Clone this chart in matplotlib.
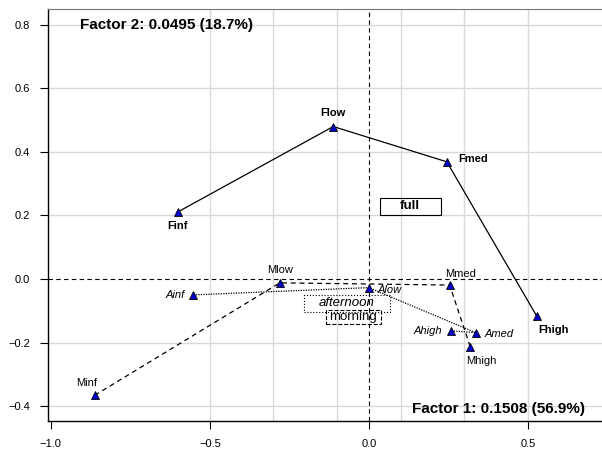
import numpy as np
import matplotlib.pyplot as plt
from matplotlib.patches import Rectangle

plt.rcParams['font.family'] = ['Liberation Sans', 'DejaVu Sans']

# correspondence analysis coordinates (factor 1, factor 2)
f_names = ['Finf', 'Flow', 'Fmed', 'Fhigh']
f_x = [-0.601, -0.112, 0.245, 0.528]
f_y = [0.211, 0.480, 0.369, -0.117]

m_names = ['Minf', 'Mlow', 'Mmed', 'Mhigh']
m_x = [-0.862, -0.280, 0.254, 0.319]
m_y = [-0.366, -0.012, -0.019, -0.214]

a_names = ['Ainf', 'Alow', 'Amed', 'Ahigh']
a_x = [-0.552, 0.000, 0.336, 0.258]
a_y = [-0.050, -0.027, -0.169, -0.163]

# group centroids
grp_names = ['full', 'afternoon', 'morning']
grp_x = [0.130, -0.069, -0.049]
grp_y = [0.227, -0.077, -0.120]

xticks = [-1.0, -0.5, 0.0, 0.5]
yticks = [-0.4, -0.2, 0.0, 0.2, 0.4, 0.6, 0.8]
xgrid = [-0.5, -0.3, -0.1, 0.1, 0.3, 0.5]

fig = plt.figure(figsize=(6.02, 4.53), dpi=100)
ax = fig.add_axes([0.0797, 0.0706, 0.9203, 0.9095])
ax.set_xlim(-1.009, 0.733)
ax.set_ylim(-0.447, 0.850)

for gx in xgrid:
  ax.axvline(gx, color='#d9d9d9', lw=1, zorder=0)
for gy in yticks:
  if gy != 0:
    ax.axhline(gy, color='#d9d9d9', lw=1, zorder=0)
ax.axvline(0, color='black', lw=0.8, ls=(0, (4, 3)), zorder=1)
ax.axhline(0, color='black', lw=0.8, ls=(0, (4, 3)), zorder=1)

mk = dict(marker='^', ms=6, mfc='#0000cc', mec='black', mew=0.6)
ax.plot(f_x, f_y, color='black', lw=0.9, ls='-', zorder=2, **mk)
ax.plot(m_x, m_y, color='black', lw=0.9, ls=(0, (4, 3)), zorder=2, **mk)
ax.plot(a_x, a_y, color='black', lw=0.9, ls=(0, (1, 1)), zorder=2, **mk)

fs = 8
# F labels: bold
f_off = [(0, -10, 'center'), (0, 10, 'center'), (8, 2, 'left'), (12, -10, 'center')]
for n, x, y, (dx, dy, ha) in zip(f_names, f_x, f_y, f_off):
  ax.annotate(n, (x, y), xytext=(dx, dy), textcoords='offset points',
              ha=ha, va='center', fontsize=fs, fontweight='bold')
# M labels: plain
m_off = [(-6, 9, 'center'), (0, 9, 'center'), (8, 8, 'center'), (8, -10, 'center')]
for n, x, y, (dx, dy, ha) in zip(m_names, m_x, m_y, m_off):
  ax.annotate(n, (x, y), xytext=(dx, dy), textcoords='offset points',
              ha=ha, va='center', fontsize=fs)
# A labels: italic
a_off = [(-6, 0, 'right'), (6, -2, 'left'), (6, -1, 'left'), (-6, 0, 'right')]
for n, x, y, (dx, dy, ha) in zip(a_names, a_x, a_y, a_off):
  ax.annotate(n, (x, y), xytext=(dx, dy), textcoords='offset points',
              ha=ha, va='center', fontsize=fs, fontstyle='italic')

# centroid labels in boxes (box width, height in data units)
box_styles = [('-', 'normal', 'bold', 0.192, 0.054),
              (':', 'italic', 'normal', 0.270, 0.054),
              ('--', 'normal', 'normal', 0.173, 0.044)]
for n, x, y, (ls, st, wt, bw, bh) in zip(grp_names, grp_x, grp_y, box_styles):
  ax.add_patch(Rectangle((x - bw / 2, y - bh / 2), bw, bh, fc='none', ec='black',
                         lw=0.8, ls=ls, zorder=3))
  ax.text(x, y + 0.002, n, ha='center', va='center', fontsize=9.5, fontstyle=st,
          fontweight=wt, zorder=4)

ax.text(-0.909, 0.80, 'Factor 2: 0.0495 (18.7%)', ha='left', va='center',
        fontsize=11, fontweight='bold')
ax.text(0.679, -0.410, 'Factor 1: 0.1508 (56.9%)', ha='right', va='center',
        fontsize=11, fontweight='bold')

ax.set_xticks(xticks)
ax.set_xticklabels([f'{v:.1f}'.replace('-', '\u2212') for v in xticks])
ax.set_yticks(yticks)
ax.set_yticklabels([f'{v:.1f}'.replace('-', '\u2212') for v in yticks])
ax.tick_params(labelsize=8, length=6, width=0.8, pad=7)
ax.spines['right'].set_visible(False)
ax.spines['top'].set_color('#777777')
ax.spines['left'].set_linewidth(1)
ax.spines['bottom'].set_linewidth(1)

fig.savefig('out.png', dpi=100)
